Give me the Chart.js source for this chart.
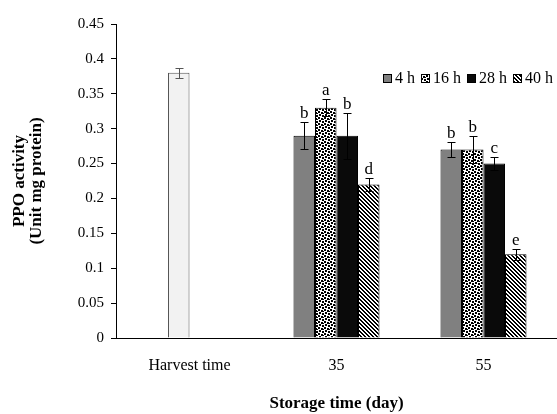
<!DOCTYPE html>
<html>
<head>
<meta charset="utf-8">
<script src="https://cdn.jsdelivr.net/npm/chart.js@4.4.1/dist/chart.umd.min.js"></script>
<style>
  html, body { margin: 0; padding: 0; background: #fff; }
  #wrap { width: 557px; height: 414px; }
</style>
</head>
<body>
<div id="wrap"><canvas id="chart" width="557" height="414"></canvas></div>
<script>
// Data
const CATEGORIES = ['Harvest time', '35', '55'];
const SERIES_NAMES = ['4 h', '16 h', '28 h', '40 h'];
const HARVEST = [0.38, null, null];
const HARVEST_ERR = [0.007, null, null];
const H4 = [null, 0.29, 0.27];
const H4_ERR = [null, 0.019, 0.011];
const H16 = [null, 0.33, 0.27];
const H16_ERR = [null, 0.012, 0.019];
const H28 = [null, 0.29, 0.25];
const H28_ERR = [null, 0.033, 0.009];
const H40 = [null, 0.22, 0.12];
const H40_ERR = [null, 0.01, 0.008];
const H4_LETTERS = ['', 'b', 'b'];
const H16_LETTERS = ['', 'a', 'b'];
const H28_LETTERS = ['', 'b', 'c'];
const H40_LETTERS = ['', 'd', 'e'];
const Y_TICKS = [0, 0.05, 0.1, 0.15, 0.2, 0.25, 0.3, 0.35, 0.4, 0.45];

const SERIF = '"Liberation Serif", "Times New Roman", serif';

// fill patterns
function makePattern(size, draw) {
  const c = document.createElement('canvas');
  c.width = size; c.height = size;
  const g = c.getContext('2d');
  g.fillStyle = '#fff'; g.fillRect(0, 0, size, size);
  g.fillStyle = '#000';
  draw(g);
  return document.getElementById('chart').getContext('2d').createPattern(c, 'repeat');
}
const dotsPattern = makePattern(6, g => {
  [[1, 0], [4, 1], [0, 3], [3, 4]].forEach(([x, y]) => g.fillRect(x, y, 2, 2));
  g.fillRect(5, 5, 1, 1);
});
const stripePattern = makePattern(4, g => {
  for (let y = 0; y < 4; y++) for (let x = 0; x < 4; x++) {
    const d = ((x - y) % 4 + 4) % 4;
    if (d < 2) g.fillRect(x, y, 1, 1);
  }
});

const ERRS = [H4_ERR, H16_ERR, H28_ERR, H40_ERR, HARVEST_ERR];
const LETTERS = [H4_LETTERS, H16_LETTERS, H28_LETTERS, H40_LETTERS, null];

const errorBars = {
  id: 'errorBars',
  beforeDraw(chart) {
    const ctx = chart.ctx;
    ctx.save();
    ctx.fillStyle = '#fff';
    ctx.fillRect(0, 0, chart.width, chart.height);
    ctx.restore();
  },
  afterDatasetsDraw(chart) {
    const ctx = chart.ctx;
    const y = chart.scales.y;
    ctx.save();
    chart.data.datasets.forEach((ds, di) => {
      const meta = chart.getDatasetMeta(di);
      meta.data.forEach((bar, i) => {
        const v = ds.data[i];
        if (v == null) return;
        const e = ERRS[di][i];
        const top = Math.round(y.getPixelForValue(v + e)) + 0.5;
        const bot = Math.round(y.getPixelForValue(v - e)) + 0.5;
        const x = Math.round(bar.x) + 0.5;
        ctx.strokeStyle = di === 4 ? '#555' : '#000';
        ctx.lineWidth = 1;
        ctx.beginPath();
        ctx.moveTo(x, top); ctx.lineTo(x, bot);
        ctx.moveTo(x - 4, top); ctx.lineTo(x + 4, top);
        ctx.moveTo(x - 4, bot); ctx.lineTo(x + 4, bot);
        ctx.stroke();
        if (LETTERS[di] && LETTERS[di][i]) {
          ctx.fillStyle = '#000';
          ctx.font = '17px ' + SERIF;
          ctx.textAlign = 'center';
          ctx.textBaseline = 'alphabetic';
          ctx.fillText(LETTERS[di][i], bar.x, top - 5);
        }
      });
    });
    ctx.restore();
  },
  afterDraw(chart) {
    // legend (harvest bar is not listed)
    const ctx = chart.ctx;
    ctx.save();
    ctx.font = '16px ' + SERIF;
    ctx.textBaseline = 'middle';
    ctx.textAlign = 'left';
    let x = 383;
    const yc = 79;
    SERIES_NAMES.forEach((name, i) => {
      const ds = chart.data.datasets[i];
      ctx.fillStyle = ds.backgroundColor;
      ctx.fillRect(x, yc - 5, 9, 9);
      ctx.strokeStyle = '#000';
      ctx.lineWidth = 1;
      ctx.strokeRect(x + 0.5, yc - 4.5, 8, 8);
      x += 12;
      ctx.fillStyle = '#000';
      ctx.fillText(name, x, yc);
      x += ctx.measureText(name).width + 6;
    });
    ctx.restore();
  }
};

new Chart(document.getElementById('chart'), {
  type: 'bar',
  data: {
    labels: CATEGORIES,
    datasets: [
      { label: SERIES_NAMES[0], data: H4, stack: 's1', backgroundColor: '#808080', borderColor: '#000', borderWidth: 1 },
      { label: SERIES_NAMES[1], data: H16, stack: 's2', backgroundColor: dotsPattern, borderColor: '#000', borderWidth: 1 },
      { label: SERIES_NAMES[2], data: H28, stack: 's3', backgroundColor: '#0a0a0a', borderColor: '#000', borderWidth: 1 },
      { label: SERIES_NAMES[3], data: H40, stack: 's4', backgroundColor: stripePattern, borderColor: '#000', borderWidth: 1 },
      { label: 'Harvest', data: HARVEST, stack: 's2', backgroundColor: '#f2f2f2', borderColor: '#555', borderWidth: 1 }
    ]
  },
  options: {
    responsive: false,
    animation: false,
    layout: { padding: { top: 24, right: 0, left: 0, bottom: 0 } },
    datasets: { bar: { categoryPercentage: 0.585, barPercentage: 1 } },
    plugins: { legend: { display: false }, tooltip: { enabled: false } },
    scales: {
      x: {
        grid: { display: false, drawTicks: false },
        border: { display: true, color: '#000', width: 1 },
        ticks: { color: '#000', padding: 18, font: { family: SERIF, size: 16 } },
        title: {
          display: true, text: 'Storage time (day)', color: '#000',
          font: { family: SERIF, size: 17, weight: 'bold' }, padding: { top: 0, bottom: 0 }
        },
        afterFit(scale) { scale.height = 76; }
      },
      y: {
        min: 0, max: 0.45,
        afterBuildTicks(scale) { scale.ticks = Y_TICKS.map(v => ({ value: v })); },
        grid: { drawOnChartArea: false, drawTicks: true, tickLength: 5, color: '#000' },
        border: { display: true, color: '#000', width: 1 },
        ticks: { color: '#000', padding: 7, font: { family: SERIF, size: 15 }, callback: v => String(+v.toFixed(2)) },
        title: {
          display: true, text: ['PPO activity', '(Unit mg protein)'], color: '#000',
          font: { family: SERIF, size: 17, weight: 'bold', lineHeight: 1 }, padding: { top: 11, bottom: 0 }
        },
        afterFit(scale) { scale.width = 116; }
      }
    }
  },
  plugins: [errorBars]
});
</script>
</body>
</html>
